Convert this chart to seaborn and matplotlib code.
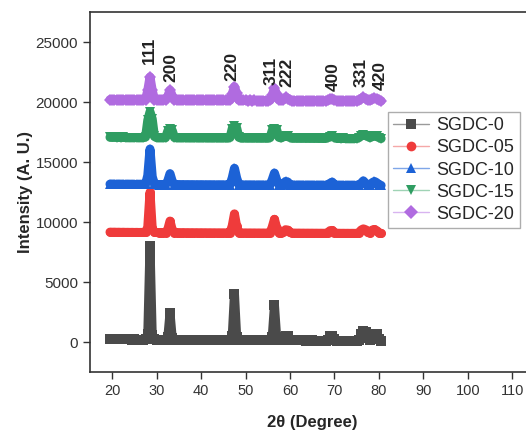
import matplotlib
matplotlib.use("Agg")
import matplotlib.pyplot as plt
from matplotlib.lines import Line2D
import numpy as np
import pandas as pd
import seaborn as sns

# 2-theta grid (0.5 degree steps, 19.5 .. 80.5)
two_theta = np.arange(19.5, 80.75, 0.5)

sgdc_0 = [
    260, 250, 255, 245, 250, 240, 245, 238, 240, 235,
    232, 236, 230, 228, 232, 230, 260, 700, 8050, 600,
    240, 225, 220, 215, 218, 212, 400, 2450, 380, 205,
    200, 205, 198, 200, 195, 198, 192, 195, 190, 192,
    188, 190, 185, 188, 182, 185, 180, 183, 180, 178,
    180, 176, 178, 175, 190, 520, 4050, 480, 185, 172,
    170, 172, 168, 170, 166, 168, 165, 167, 163, 165,
    162, 165, 180, 450, 3100, 420, 170, 160, 240, 560,
    520, 230, 155, 158, 152, 155, 150, 152, 148, 150,
    148, 150, 145, 148, 145, 147, 143, 145, 200, 520,
    560, 260, 142, 140, 142, 138, 140, 137, 139, 135,
    137, 135, 160, 650, 900, 880, 350, 180, 650, 720,
    690, 300, 130,
]
sgdc_05 = [
    9180, 9170, 9175, 9165, 9170, 9160, 9168, 9158, 9162, 9155,
    9160, 9152, 9158, 9150, 9155, 9150, 9170, 9600, 12500, 9500,
    9170, 9150, 9145, 9148, 9142, 9145, 9400, 10100, 9380, 9140,
    9138, 9142, 9135, 9140, 9132, 9136, 9130, 9134, 9128, 9132,
    9126, 9130, 9125, 9128, 9122, 9126, 9120, 9124, 9118, 9122,
    9118, 9120, 9115, 9118, 9130, 9700, 10700, 9650, 9130, 9112,
    9110, 9114, 9108, 9112, 9106, 9110, 9104, 9108, 9102, 9106,
    9100, 9104, 9120, 9600, 10250, 9550, 9130, 9110, 9180, 9380,
    9350, 9150, 9098, 9100, 9095, 9098, 9093, 9096, 9090, 9094,
    9090, 9092, 9088, 9090, 9086, 9088, 9084, 9086, 9120, 9300,
    9320, 9140, 9082, 9085, 9080, 9083, 9078, 9081, 9076, 9080,
    9076, 9080, 9110, 9350, 9450, 9380, 9150, 9100, 9350, 9400,
    9300, 9120, 9075,
]
sgdc_10 = [
    13180, 13170, 13175, 13165, 13170, 13160, 13168, 13158, 13162, 13155,
    13160, 13152, 13158, 13150, 13155, 13150, 13170, 13900, 16100, 13800,
    13180, 13150, 13145, 13148, 13142, 13145, 13450, 14050, 13420, 13140,
    13138, 13142, 13135, 13140, 13132, 13136, 13130, 13134, 13128, 13132,
    13126, 13130, 13125, 13128, 13122, 13126, 13120, 13124, 13118, 13122,
    13118, 13120, 13115, 13118, 13130, 13700, 14500, 13680, 13130, 13112,
    13110, 13114, 13108, 13112, 13106, 13110, 13104, 13108, 13102, 13106,
    13100, 13104, 13120, 13550, 14100, 13530, 13130, 13110, 13160, 13400,
    13350, 13140, 13098, 13100, 13095, 13098, 13093, 13096, 13090, 13094,
    13090, 13092, 13088, 13090, 13086, 13088, 13084, 13086, 13110, 13250,
    13350, 13130, 13082, 13085, 13080, 13083, 13078, 13081, 13076, 13080,
    13076, 13080, 13100, 13250, 13450, 13250, 13120, 13100, 13300, 13400,
    13300, 13120, 13075,
]
sgdc_15 = [
    17080, 17070, 17075, 17065, 17070, 17060, 17068, 17058, 17062, 17055,
    17060, 17052, 17058, 17050, 17055, 17050, 17100, 18500, 19200, 18600,
    17150, 17050, 17045, 17048, 17042, 17045, 17600, 17750, 17650, 17060,
    17038, 17042, 17035, 17040, 17032, 17036, 17030, 17034, 17028, 17032,
    17026, 17030, 17025, 17028, 17022, 17026, 17020, 17024, 17018, 17022,
    17018, 17020, 17015, 17018, 17060, 17800, 18000, 17850, 17080, 17012,
    17010, 17014, 17008, 17012, 17006, 17010, 17004, 17008, 17002, 17006,
    17000, 17004, 17050, 17650, 17800, 17700, 17080, 17030, 17120, 17200,
    17150, 17060, 16998, 17000, 16995, 16998, 16993, 16996, 16990, 16994,
    16990, 16992, 16988, 16990, 16986, 16988, 16984, 16986, 17050, 17120,
    17150, 17060, 16982, 16985, 16980, 16983, 16978, 16981, 16976, 16980,
    16976, 16980, 17050, 17200, 17250, 17220, 17150, 17050, 17150, 17180,
    17150, 17060, 16975,
]
sgdc_20 = [
    20220, 20210, 20215, 20205, 20210, 20200, 20208, 20198, 20202, 20195,
    20200, 20192, 20198, 20190, 20195, 20190, 20230, 21000, 22100, 21000,
    20230, 20190, 20185, 20188, 20182, 20185, 20500, 21000, 20550, 20190,
    20178, 20182, 20175, 20180, 20172, 20176, 20170, 20174, 20168, 20172,
    20166, 20170, 20165, 20168, 20162, 20166, 20160, 20164, 20158, 20162,
    20158, 20160, 20155, 20158, 20180, 20700, 21300, 20750, 20180, 20152,
    20150, 20154, 20148, 20152, 20146, 20150, 20144, 20148, 20142, 20146,
    20140, 20144, 20160, 20600, 21150, 20650, 20200, 20160, 20200, 20400,
    20300, 20180, 20138, 20140, 20135, 20138, 20133, 20136, 20130, 20134,
    20130, 20132, 20128, 20130, 20126, 20128, 20124, 20126, 20160, 20250,
    20300, 20180, 20122, 20125, 20120, 20123, 20118, 20121, 20116, 20120,
    20116, 20120, 20150, 20300, 20400, 20300, 20180, 20150, 20280, 20350,
    20300, 20180, 20115,
]

samples = ["SGDC-0", "SGDC-05", "SGDC-10", "SGDC-15", "SGDC-20"]
intensities = [sgdc_0, sgdc_05, sgdc_10, sgdc_15, sgdc_20]
colors = ["#4a4a4a", "#ef3b3b", "#1c62d6", "#2f9d62", "#b06be0"]
legend_line_colors = ["#9a9a9a", "#f5a8a8", "#7fa6e8", "#9fd3b5", "#d8b4f0"]
marker_shapes = ["s", "o", "^", "v", "D"]

# hkl reflections (label, 2theta position, label baseline height)
hkl_labels = ["111", "200", "220", "311", "222", "400", "331", "420"]
hkl_pos = [28.3, 33.3, 47.0, 55.7, 59.4, 69.8, 76.1, 80.3]
hkl_y = [23200, 21650, 21800, 21400, 21250, 20950, 21250, 21000]

df = pd.concat(
    [pd.DataFrame({"2theta": two_theta, "Intensity": vals, "Sample": name})
     for name, vals in zip(samples, intensities)],
    ignore_index=True)

sns.set_style("ticks")
plt.rcParams["font.family"] = ["Liberation Sans", "DejaVu Sans"]

fig = plt.figure(figsize=(5.26, 4.34), dpi=100)
ax = fig.add_axes([0.1711, 0.1422, 0.845, 0.8295])

sns.lineplot(data=df, x="2theta", y="Intensity", hue="Sample", style="Sample",
             palette=dict(zip(samples, colors)),
             markers=dict(zip(samples, marker_shapes)), dashes=False,
             linewidth=6.5, markersize=6.5, markeredgewidth=0,
             sort=True, estimator=None, legend=False, ax=ax)

for label, xpos, ypos in zip(hkl_labels, hkl_pos, hkl_y):
    ax.text(xpos, ypos, label, rotation=90, ha="center", va="bottom",
            fontsize=12.5, fontweight="bold", color="#222222")

ax.set_xlim(15, 115)
ax.set_ylim(-2500, 27500)
ax.set_xticks(range(20, 111, 10))
ax.set_yticks(range(0, 25001, 5000))
ax.tick_params(axis="y", labelsize=11, length=5, width=1, colors="#333333")
ax.tick_params(axis="x", labelsize=10.5, length=5, width=1, colors="#333333")
for side in ["left", "bottom", "top", "right"]:
    ax.spines[side].set_linewidth(1.2)
    ax.spines[side].set_color("#333333")

ax.set_xlabel("2θ (Degree)", fontsize=12, fontweight="bold", labelpad=12)
ax.set_ylabel("Intensity (A. U.)", fontsize=12, fontweight="bold", labelpad=2)

handles = [Line2D([0], [0], color=lc, lw=1, marker=m, markersize=7,
                  markerfacecolor=c, markeredgewidth=0)
           for lc, c, m in zip(legend_line_colors, colors, marker_shapes)]
leg = ax.legend(handles, samples, loc="upper left", bbox_to_anchor=(0.67, 0.723),
                borderaxespad=0, fontsize=13, frameon=True, fancybox=False,
                edgecolor="#999999", handlelength=2.0, handletextpad=0.4,
                labelspacing=0.28, borderpad=0.3)
leg.get_frame().set_linewidth(1)

fig.savefig("out.png", dpi=100)
